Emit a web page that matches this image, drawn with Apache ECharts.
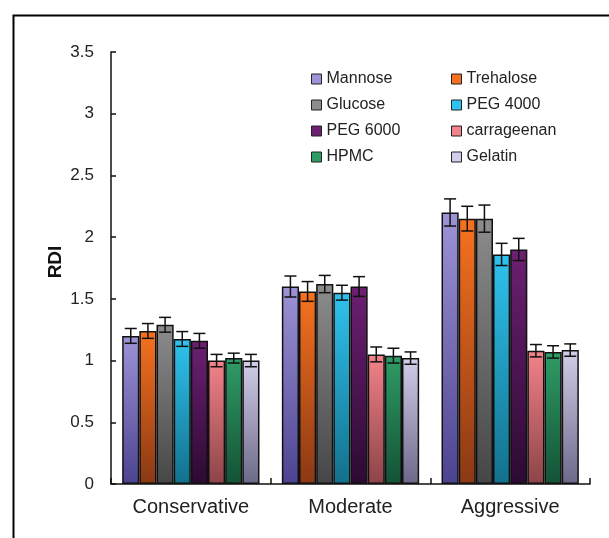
<!DOCTYPE html>
<html>
<head>
<meta charset="utf-8">
<script src="https://cdn.jsdelivr.net/npm/echarts@6/dist/echarts.min.js"></script>
<style>
  html, body { margin: 0; padding: 0; background: #fff; }
  #chart { width: 609px; height: 538px; }
</style>
</head>
<body>
<div id="chart"></div>
<script>
const categories = ['Conservative', 'Moderate', 'Aggressive'];
const seriesNames = ['Mannose', 'Trehalose', 'Glucose', 'PEG 4000', 'PEG 6000', 'carrageenan', 'HPMC', 'Gelatin'];

const mannose = [1.2, 1.6, 2.2];
const trehalose = [1.24, 1.56, 2.15];
const glucose = [1.29, 1.62, 2.15];
const peg4000 = [1.175, 1.55, 1.86];
const peg6000 = [1.16, 1.6, 1.9];
const carrageenan = [1.0, 1.05, 1.08];
const hpmc = [1.02, 1.04, 1.07];
const gelatin = [1.0, 1.02, 1.085];

const mannoseErr = [0.06, 0.085, 0.11];
const trehaloseErr = [0.06, 0.08, 0.1];
const glucoseErr = [0.06, 0.07, 0.11];
const peg4000Err = [0.06, 0.06, 0.09];
const peg6000Err = [0.06, 0.08, 0.09];
const carrageenanErr = [0.05, 0.06, 0.05];
const hpmcErr = [0.04, 0.06, 0.05];
const gelatinErr = [0.05, 0.05, 0.05];

const yTicks = [0, 0.5, 1, 1.5, 2, 2.5, 3, 3.5];

const values = [mannose, trehalose, glucose, peg4000, peg6000, carrageenan, hpmc, gelatin];
const errors = [mannoseErr, trehaloseErr, glucoseErr, peg4000Err, peg6000Err, carrageenanErr, hpmcErr, gelatinErr];

// top colour -> bottom colour of each bar
const colors = [
  ['#9d93d6', '#4c4390'],
  ['#f7721f', '#8a3814'],
  ['#8c8c8c', '#464646'],
  ['#30c2ee', '#12708c'],
  ['#6c2072', '#2c0a32'],
  ['#f2838a', '#8c4448'],
  ['#2f9c66', '#145236'],
  ['#d2cee9', '#6c6888']
];

const fontFam = "'Liberation Sans', Arial, sans-serif";
const catGap = 0.14;

const chart = echarts.init(document.getElementById('chart'));

const barSeries = seriesNames.map(function (name, i) {
  return {
    name: name,
    type: 'bar',
    data: values[i],
    barGap: '0%',
    barCategoryGap: (catGap * 100) + '%',
    itemStyle: {
      color: new echarts.graphic.LinearGradient(0, 0, 0, 1, [
        { offset: 0, color: colors[i][0] },
        { offset: 1, color: colors[i][1] }
      ]),
      borderColor: '#111',
      borderWidth: 1.5
    },
    emphasis: { disabled: true }
  };
});

const errData = [];
values.forEach(function (arr, s) {
  arr.forEach(function (v, c) {
    errData.push([c, s, v, errors[s][c]]);
  });
});

const errSeries = {
  type: 'custom',
  name: 'err',
  z: 10,
  data: errData,
  encode: { x: 0, y: 2 },
  renderItem: function (params, api) {
    const cat = api.value(0);
    const s = api.value(1);
    const v = api.value(2);
    const e = api.value(3);
    const catW = api.size([1, 0])[0];
    const barW = catW * (1 - catGap) / seriesNames.length;
    const center = api.coord([cat, v]);
    const x = center[0] + (s - (seriesNames.length - 1) / 2) * barW;
    const yHi = api.coord([cat, v + e])[1];
    const yLo = api.coord([cat, v - e])[1];
    const hw = 6;
    const style = { stroke: '#111', lineWidth: 1.5 };
    return {
      type: 'group',
      children: [
        { type: 'line', shape: { x1: x, y1: yHi, x2: x, y2: yLo }, style: style },
        { type: 'line', shape: { x1: x - hw, y1: yHi, x2: x + hw, y2: yHi }, style: style },
        { type: 'line', shape: { x1: x - hw, y1: yLo, x2: x + hw, y2: yLo }, style: style }
      ]
    };
  }
};

function legendData(idx) {
  return idx.map(function (i) {
    return {
      name: seriesNames[i],
      itemStyle: { color: colors[i][0], borderColor: '#222', borderWidth: 1 }
    };
  });
}

const legendCommon = {
  orient: 'vertical',
  top: 66,
  icon: 'rect',
  itemWidth: 10,
  itemHeight: 10,
  itemGap: 10,
  selectedMode: false,
  textStyle: { fontFamily: fontFam, fontSize: 16, color: '#222' }
};

chart.setOption({
  animation: false,
  backgroundColor: '#fff',
  graphic: [{
    type: 'rect',
    left: 11,
    top: 13,
    shape: { width: 700, height: 600 },
    style: { fill: 'none', stroke: '#000', lineWidth: 2 },
    silent: true
  }],
  legend: [
    Object.assign({ left: 306, data: legendData([0, 2, 4, 6]) }, legendCommon),
    Object.assign({ left: 446, data: legendData([1, 3, 5, 7]) }, legendCommon)
  ],
  grid: { left: 111, right: 19, top: 52, bottom: 54, containLabel: false },
  xAxis: {
    type: 'category',
    data: categories,
    axisLine: { show: true, lineStyle: { color: '#111', width: 1.5 } },
    axisTick: { show: true, inside: true, length: 6, lineStyle: { color: '#111', width: 1.5 } },
    axisLabel: { fontFamily: fontFam, fontSize: 20, color: '#222', margin: 13 }
  },
  yAxis: {
    type: 'value',
    min: yTicks[0],
    max: yTicks[yTicks.length - 1],
    interval: 0.5,
    name: 'RDI',
    nameLocation: 'middle',
    nameGap: 46,
    nameMoveOverlap: false,
    nameTextStyle: { fontFamily: fontFam, fontSize: 19, fontWeight: 'bold', color: '#111', padding: [0, 0, 0, 12] },
    axisLine: { show: true, lineStyle: { color: '#111', width: 1.5 } },
    axisTick: { show: true, inside: true, length: 5, lineStyle: { color: '#111', width: 1.5 } },
    splitLine: { show: false },
    axisLabel: { fontFamily: fontFam, fontSize: 17, color: '#222', margin: 17 }
  },
  series: barSeries.concat([errSeries])
});
</script>
</body>
</html>
